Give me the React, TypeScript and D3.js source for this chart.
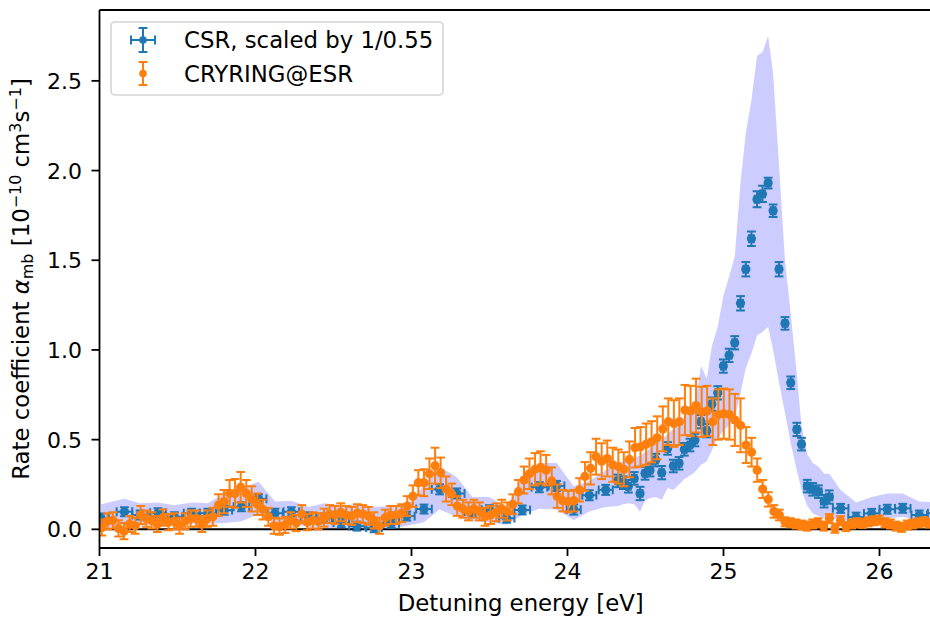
import React from "react";
import * as d3 from "d3";

const W = 930;
const H = 617;
const plot = { left: 99.5, right: 941.9, top: 10, bottom: 548 };

// CSR measurement (scaled), energies in eV, rate in 1e-10 cm^3/s
const csrEnergy = [
  21.01, 21.16, 21.26, 21.375, 21.48, 21.59, 21.695, 21.8, 21.91, 22.02,
  22.125, 22.23, 22.34, 22.44, 22.55, 22.65, 22.76, 22.87, 22.97, 23.08,
  23.18, 23.29, 23.39, 23.5, 23.61, 23.71, 23.82, 23.93, 24.04, 24.14,
  24.245, 24.322, 24.358, 24.39, 24.428, 24.465, 24.497, 24.529, 24.565, 24.604,
  24.642, 24.678, 24.715, 24.749, 24.785, 24.817, 24.856, 24.893, 24.925, 24.963,
  24.999, 25.036, 25.072, 25.109, 25.143, 25.179, 25.215, 25.25, 25.286, 25.318,
  25.356, 25.394, 25.431, 25.47, 25.5, 25.537, 25.572, 25.608, 25.645, 25.678,
  25.751, 25.85, 25.95, 26.05, 26.149, 26.255, 26.36,
];
const csrRate = [
  0.063, 0.098, 0.08, 0.093, 0.07, 0.09, 0.09, 0.107, 0.126, 0.17,
  0.09, 0.098, 0.07, 0.063, 0.037, 0.018, 0.009, 0.033, 0.074, 0.113,
  0.223, 0.2, 0.098, 0.11, 0.062, 0.108, 0.235, 0.242, 0.11, 0.19,
  0.22, 0.27, 0.26, 0.24, 0.284, 0.2, 0.312, 0.33, 0.386, 0.316,
  0.451, 0.353, 0.368, 0.446, 0.47, 0.498, 0.6, 0.55, 0.698, 0.761,
  0.91, 0.97, 1.04, 1.26, 1.45, 1.62, 1.84, 1.87, 1.93, 1.776,
  1.45, 1.148, 0.817, 0.557, 0.475, 0.241, 0.223, 0.21, 0.157, 0.18,
  0.117, 0.068, 0.089, 0.112, 0.117, 0.08, 0.09,
];
const csrRateErr = [
  0.025, 0.025, 0.025, 0.025, 0.025, 0.025, 0.025, 0.025, 0.025, 0.025,
  0.025, 0.025, 0.025, 0.025, 0.025, 0.025, 0.025, 0.025, 0.025, 0.025,
  0.028, 0.028, 0.025, 0.025, 0.025, 0.025, 0.028, 0.028, 0.028, 0.028,
  0.028, 0.035, 0.035, 0.035, 0.035, 0.037, 0.035, 0.035, 0.035, 0.037,
  0.035, 0.035, 0.035, 0.035, 0.035, 0.035, 0.037, 0.037, 0.037, 0.037,
  0.037, 0.037, 0.037, 0.04, 0.04, 0.04, 0.045, 0.045, 0.03, 0.035,
  0.04, 0.035, 0.035, 0.037, 0.035, 0.035, 0.035, 0.035, 0.035, 0.037,
  0.025, 0.025, 0.025, 0.025, 0.025, 0.025, 0.025,
];
const csrEnergyErr = [
  0.05, 0.05, 0.05, 0.05, 0.05, 0.05, 0.05, 0.05, 0.05, 0.05,
  0.05, 0.05, 0.05, 0.05, 0.05, 0.05, 0.05, 0.05, 0.05, 0.05,
  0.05, 0.05, 0.05, 0.05, 0.05, 0.05, 0.05, 0.05, 0.045, 0.045,
  0.045, 0.015, 0.015, 0.015, 0.015, 0.015, 0.015, 0.015, 0.015, 0.015,
  0.015, 0.015, 0.015, 0.015, 0.015, 0.015, 0.015, 0.015, 0.015, 0.015,
  0.015, 0.015, 0.015, 0.015, 0.015, 0.015, 0.015, 0.015, 0.015, 0.015,
  0.015, 0.015, 0.015, 0.015, 0.015, 0.02, 0.02, 0.02, 0.02, 0.02,
  0.05, 0.05, 0.05, 0.05, 0.05, 0.05, 0.05,
];
// systematic uncertainty band of the CSR data
const csrBandLow = [
  0.0, 0.03, 0.02, 0.03, 0.02, 0.03, 0.03, 0.035, 0.045, 0.085,
  0.03, 0.03, 0.015, 0.01, 0.005, 0.0, -0.005, 0.0, 0.02, 0.04,
  0.11, 0.07, 0.045, 0.04, 0.025, 0.08, 0.115, 0.11, 0.05, 0.1,
  0.125, 0.13, 0.14, 0.145, 0.14, 0.098, 0.16, 0.175, 0.18, 0.165,
  0.23, 0.22, 0.25, 0.28, 0.3, 0.32, 0.36, 0.38, 0.44, 0.51,
  0.55, 0.58, 0.62, 0.76, 0.9, 0.98, 1.08, 1.1, 1.13, 1.0,
  0.82, 0.65, 0.48, 0.33, 0.22, 0.13, 0.09, 0.075, 0.065, 0.06,
  0.055, 0.035, 0.05, 0.06, 0.07, 0.05, 0.05,
];
const csrBandHigh = [
  0.14, 0.17, 0.145, 0.15, 0.135, 0.15, 0.145, 0.2, 0.23, 0.265,
  0.155, 0.16, 0.125, 0.145, 0.135, 0.14, 0.125, 0.13, 0.135, 0.245,
  0.35, 0.29, 0.18, 0.18, 0.125, 0.29, 0.37, 0.37, 0.24, 0.27,
  0.33, 0.37, 0.38, 0.39, 0.4, 0.41, 0.43, 0.45, 0.48, 0.5,
  0.53, 0.56, 0.6, 0.63, 0.67, 0.7, 0.91, 0.84, 1.02, 1.13,
  1.3, 1.41, 1.52, 1.93, 2.21, 2.39, 2.64, 2.66, 2.75, 2.54,
  2.03, 1.5, 1.2, 0.86, 0.58, 0.42, 0.37, 0.35, 0.31, 0.31,
  0.22, 0.15, 0.18, 0.2, 0.2, 0.155, 0.15,
];

// CRYRING@ESR measurement
const cryEnergy = [
  21.015, 21.051, 21.086, 21.122, 21.157, 21.193, 21.229, 21.264, 21.3, 21.335,
  21.371, 21.407, 21.442, 21.478, 21.513, 21.549, 21.585, 21.62, 21.656, 21.691,
  21.727, 21.763, 21.798, 21.834, 21.869, 21.905, 21.941, 21.976, 22.012, 22.047,
  22.083, 22.119, 22.154, 22.19, 22.225, 22.261, 22.297, 22.332, 22.368, 22.403,
  22.439, 22.475, 22.51, 22.546, 22.581, 22.617, 22.653, 22.688, 22.724, 22.759,
  22.795, 22.831, 22.866, 22.902, 22.937, 22.973, 23.009, 23.044, 23.08, 23.115,
  23.151, 23.187, 23.222, 23.258, 23.293, 23.329, 23.365, 23.4, 23.436, 23.471,
  23.507, 23.543, 23.578, 23.614, 23.649, 23.685, 23.721, 23.756, 23.792, 23.827,
  23.863, 23.899, 23.934, 23.97, 24.005, 24.041, 24.077, 24.112, 24.148, 24.183,
  24.219, 24.255, 24.29, 24.326, 24.361, 24.397, 24.433, 24.468, 24.504, 24.539,
  24.575, 24.611, 24.646, 24.682, 24.717, 24.753, 24.789, 24.824, 24.86, 24.895,
  24.931, 24.967, 25.002, 25.038, 25.073, 25.109, 25.145, 25.18, 25.216, 25.251,
  25.287, 25.323, 25.358, 25.394, 25.429, 25.465, 25.501, 25.536, 25.572, 25.607,
  25.643, 25.679, 25.714, 25.75, 25.785, 25.821, 25.857, 25.892, 25.928, 25.963,
  25.999, 26.035, 26.07, 26.106, 26.141, 26.177, 26.213, 26.248, 26.284, 26.319,
];
const cryRate = [
  0.01, 0.045, 0.05, 0.005, -0.01, 0.03, 0.02, 0.08, 0.06, 0.05,
  0.03, 0.065, 0.04, 0.045, 0.02, 0.045, 0.06, 0.06, 0.03, 0.06,
  0.07, 0.135, 0.155, 0.2, 0.2, 0.235, 0.2, 0.17, 0.14, 0.11,
  0.07, 0.02, 0.015, 0.025, 0.05, 0.035, 0.085, 0.04, 0.05, 0.045,
  0.065, 0.085, 0.08, 0.095, 0.08, 0.075, 0.09, 0.085, 0.075, 0.05,
  0.02, 0.065, 0.08, 0.08, 0.09, 0.13, 0.185, 0.26, 0.26, 0.31,
  0.355, 0.315, 0.225, 0.195, 0.13, 0.115, 0.1, 0.115, 0.1, 0.07,
  0.08, 0.095, 0.115, 0.1, 0.14, 0.21, 0.275, 0.31, 0.335, 0.345,
  0.33, 0.27, 0.185, 0.16, 0.155, 0.16, 0.22, 0.295, 0.34, 0.405,
  0.38, 0.395, 0.36, 0.35, 0.335, 0.39, 0.455, 0.46, 0.475, 0.488,
  0.51, 0.56, 0.6, 0.59, 0.6, 0.665, 0.66, 0.69, 0.655, 0.66,
  0.6, 0.64, 0.645, 0.64, 0.61, 0.58, 0.47, 0.43, 0.33, 0.225,
  0.167, 0.1, 0.08, 0.042, 0.037, 0.03, 0.024, 0.018, 0.03, 0.037,
  0.018, 0.06, 0.006, 0.048, 0.015, 0.03, 0.037, 0.033, 0.042, 0.048,
  0.052, 0.037, 0.03, 0.018, 0.011, 0.024, 0.03, 0.037, 0.042, 0.035,
];
const cryErr = [
  0.045, 0.045, 0.045, 0.045, 0.045, 0.045, 0.045, 0.05, 0.045, 0.045,
  0.045, 0.045, 0.045, 0.045, 0.045, 0.045, 0.045, 0.045, 0.045, 0.045,
  0.05, 0.06, 0.065, 0.075, 0.08, 0.085, 0.075, 0.07, 0.06, 0.055,
  0.05, 0.045, 0.045, 0.045, 0.045, 0.045, 0.05, 0.045, 0.045, 0.045,
  0.05, 0.05, 0.05, 0.05, 0.05, 0.05, 0.05, 0.05, 0.05, 0.045,
  0.045, 0.045, 0.05, 0.05, 0.05, 0.055, 0.06, 0.07, 0.075, 0.085,
  0.1, 0.085, 0.07, 0.06, 0.055, 0.05, 0.05, 0.05, 0.05, 0.05,
  0.05, 0.05, 0.05, 0.05, 0.055, 0.065, 0.075, 0.085, 0.09, 0.09,
  0.085, 0.075, 0.065, 0.06, 0.06, 0.06, 0.065, 0.08, 0.09, 0.1,
  0.1, 0.1, 0.095, 0.095, 0.095, 0.1, 0.11, 0.11, 0.115, 0.115,
  0.12, 0.125, 0.13, 0.13, 0.13, 0.14, 0.14, 0.15, 0.14, 0.14,
  0.13, 0.14, 0.14, 0.14, 0.145, 0.15, 0.1, 0.08, 0.065, 0.05,
  0.04, 0.035, 0.03, 0.025, 0.025, 0.025, 0.025, 0.025, 0.025, 0.025,
  0.025, 0.025, 0.025, 0.025, 0.025, 0.025, 0.025, 0.025, 0.025, 0.025,
  0.025, 0.025, 0.025, 0.025, 0.025, 0.025, 0.025, 0.025, 0.025, 0.025,
];

const xTicks = [21, 22, 23, 24, 25, 26];
const yTicks = [0, 0.5, 1.0, 1.5, 2.0, 2.5];

const BLUE = "#1f77b4";
const ORANGE = "#ff7f0e";
const BAND = "#ccccff";
const FONT = "DejaVu Sans, Liberation Sans, sans-serif";
const FS_TICK = 22;
const FS = 22.8;

const x = d3.scaleLinear().domain([21, 26.4]).range([plot.left, plot.right]);
const y = d3.scaleLinear().domain([-0.104, 2.895]).range([plot.bottom, plot.top]);

const CAP = 4.4;
const R = 4.6;
const LW = 2;

function bandPath(): string {
  const area = d3
    .area<number>()
    .x((_, i) => x(csrEnergy[i]))
    .y0((_, i) => y(csrBandLow[i]))
    .y1((_, i) => y(csrBandHigh[i]));
  return area(csrEnergy) || "";
}

function CsrPoint({ e, v, dv, de }: { e: number; v: number; dv: number; de: number }) {
  const cx = x(e);
  const cy = y(v);
  const x0 = x(e - de);
  const x1 = x(e + de);
  const y0 = y(v - dv);
  const y1 = y(v + dv);
  return (
    <g stroke={BLUE} strokeWidth={LW}>
      <line x1={x0} x2={x1} y1={cy} y2={cy} />
      <line x1={cx} x2={cx} y1={y0} y2={y1} />
      <line x1={x0} x2={x0} y1={cy - CAP} y2={cy + CAP} />
      <line x1={x1} x2={x1} y1={cy - CAP} y2={cy + CAP} />
      <line x1={cx - CAP} x2={cx + CAP} y1={y0} y2={y0} />
      <line x1={cx - CAP} x2={cx + CAP} y1={y1} y2={y1} />
      <circle cx={cx} cy={cy} r={R} fill={BLUE} stroke="none" />
    </g>
  );
}

function CryPoint({ e, v, dv }: { e: number; v: number; dv: number }) {
  const cx = x(e);
  const cy = y(v);
  const y0 = y(v - dv);
  const y1 = y(v + dv);
  return (
    <g stroke={ORANGE} strokeWidth={LW}>
      <line x1={cx} x2={cx} y1={y0} y2={y1} />
      <line x1={cx - CAP} x2={cx + CAP} y1={y0} y2={y0} />
      <line x1={cx - CAP} x2={cx + CAP} y1={y1} y2={y1} />
      <circle cx={cx} cy={cy} r={R} fill={ORANGE} stroke="none" />
    </g>
  );
}

export default function App() {
  const sup = -8;
  return (
    <div style={{ position: "absolute", left: 0, top: 0 }}>
      <svg width={W} height={H} viewBox={`0 0 ${W} ${H}`} style={{ display: "block", background: "#fff" }}>
        <defs>
          <clipPath id="plotClip">
            <rect x={plot.left} y={plot.top} width={plot.right - plot.left} height={plot.bottom - plot.top} />
          </clipPath>
        </defs>
        <rect x={0} y={0} width={W} height={H} fill="#fff" />

        <g clipPath="url(#plotClip)">
          <path d={bandPath()} fill={BAND} stroke="none" />
          <line x1={plot.left} x2={plot.right} y1={y(0)} y2={y(0)} stroke="#000" strokeWidth={2} />
          {csrEnergy.map((e, i) => (
            <CsrPoint key={`c${i}`} e={e} v={csrRate[i]} dv={csrRateErr[i]} de={csrEnergyErr[i]} />
          ))}
          {cryEnergy.map((e, i) => (
            <CryPoint key={`r${i}`} e={e} v={cryRate[i]} dv={cryErr[i]} />
          ))}
        </g>

        {/* axes frame */}
        <g stroke="#000" strokeWidth={1.8} fill="none">
          <line x1={plot.left} x2={plot.left} y1={plot.top} y2={plot.bottom} />
          <line x1={plot.left} x2={plot.right} y1={plot.bottom} y2={plot.bottom} />
          <line x1={plot.left} x2={plot.right} y1={plot.top} y2={plot.top} />
          <line x1={plot.right} x2={plot.right} y1={plot.top} y2={plot.bottom} />
        </g>

        {/* ticks and tick labels */}
        <g fontFamily={FONT} fontSize={FS_TICK} fill="#000">
          {xTicks.map((t) => (
            <g key={`xt${t}`}>
              <line x1={x(t)} x2={x(t)} y1={plot.bottom} y2={plot.bottom + 8} stroke="#000" strokeWidth={1.8} />
              <text x={x(t)} y={plot.bottom + 31} textAnchor="middle">
                {t}
              </text>
            </g>
          ))}
          {yTicks.map((t) => (
            <g key={`yt${t}`}>
              <line x1={plot.left - 8} x2={plot.left} y1={y(t)} y2={y(t)} stroke="#000" strokeWidth={1.8} />
              <text x={plot.left - 17.5} y={y(t) + 8} textAnchor="end">
                {t.toFixed(1)}
              </text>
            </g>
          ))}
        </g>

        {/* axis titles */}
        <text x={(plot.left + plot.right) / 2} y={611} textAnchor="middle" fontFamily={FONT} fontSize={FS}>
          Detuning energy [eV]
        </text>
        <text
          transform={`translate(29, ${(plot.top + plot.bottom) / 2}) rotate(-90)`}
          textAnchor="middle"
          fontFamily={FONT}
          fontSize={FS}
        >
          Rate coefficient{" "}
          <tspan fontStyle="italic">α</tspan>
          <tspan fontSize={FS * 0.7} dy={4}>mb</tspan>
          <tspan dy={-4}> [10</tspan>
          <tspan fontSize={FS * 0.7} dy={sup}>−10</tspan>
          <tspan dy={-sup}> cm</tspan>
          <tspan fontSize={FS * 0.7} dy={sup}>3</tspan>
          <tspan dy={-sup}>s</tspan>
          <tspan fontSize={FS * 0.7} dy={sup}>−1</tspan>
          <tspan dy={-sup}>]</tspan>
        </text>

        {/* legend */}
        <g>
          <rect x={111} y={22} width={332} height={73} rx={4} fill="#fff" fillOpacity={0.85} stroke="#d5d5d5" strokeWidth={1.6} />
          <g stroke={BLUE} strokeWidth={LW}>
            <line x1={131} x2={155} y1={40} y2={40} />
            <line x1={143} x2={143} y1={28} y2={52} />
            <line x1={131} x2={131} y1={40 - CAP} y2={40 + CAP} />
            <line x1={155} x2={155} y1={40 - CAP} y2={40 + CAP} />
            <line x1={143 - CAP} x2={143 + CAP} y1={28} y2={28} />
            <line x1={143 - CAP} x2={143 + CAP} y1={52} y2={52} />
            <circle cx={143} cy={40} r={3.8} fill={BLUE} stroke="none" />
          </g>
          <g stroke={ORANGE} strokeWidth={LW}>
            <line x1={143} x2={143} y1={62} y2={85} />
            <line x1={143 - CAP} x2={143 + CAP} y1={62} y2={62} />
            <line x1={143 - CAP} x2={143 + CAP} y1={85} y2={85} />
            <circle cx={143} cy={73.5} r={3.8} fill={ORANGE} stroke="none" />
          </g>
          <text x={184} y={48.3} fontFamily={FONT} fontSize={FS}>
            CSR, scaled by 1/0.55
          </text>
          <text x={184} y={81.7} fontFamily={FONT} fontSize={FS}>
            CRYRING@ESR
          </text>
        </g>
      </svg>
    </div>
  );
}
